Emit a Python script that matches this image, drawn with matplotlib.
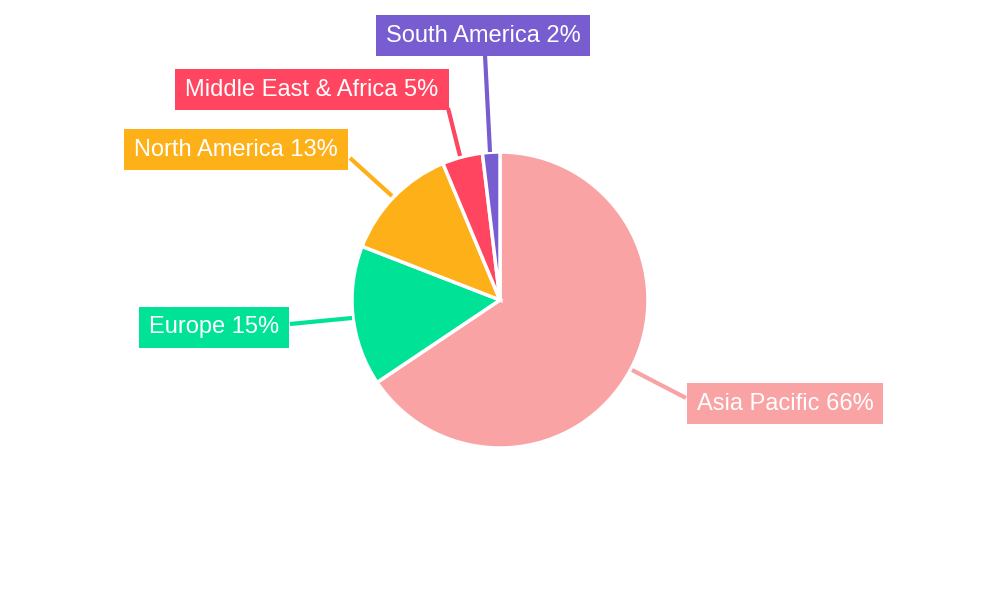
import matplotlib
matplotlib.use("Agg")
import matplotlib.pyplot as plt
import numpy as np

labels = ["Asia Pacific", "Europe", "North America", "Middle East & Africa", "South America"]
values = [65.6, 15.3, 12.8, 4.4, 1.9]
pct_text = ["66%", "15%", "13%", "5%", "2%"]
colors = ["#F9A3A4", "#00E396", "#FEB019", "#FF4560", "#775DD0"]

R = 148.0
fig = plt.figure(figsize=(10, 6), dpi=100)
ax = fig.add_axes([0, 0, 1, 1])

wedges, _ = ax.pie(values, colors=colors, startangle=90, counterclock=False, radius=1,
                   wedgeprops=dict(edgecolor="white", linewidth=2.5))
ax.set_xlim(-500 / R, 500 / R)
ax.set_ylim(-300 / R, 300 / R)
ax.set_aspect("equal")
ax.axis("off")

def px(x, y):
    return ((x - 500) / R, (300 - y) / R)

box = [(785, 402), (214, 326), (236, 148), (312, 88), (483, 34)]
line_start = [(632, 370), (352, 318), (392, 196), (460, 156), (490, 152)]
line_end = [(686, 398), (290, 324), (350, 158), (448, 108), (485, 55)]

for i, lab in enumerate(labels):
    s = px(*line_start[i]); e = px(*line_end[i])
    ax.plot([s[0], e[0]], [s[1], e[1]], color=colors[i], lw=3, solid_capstyle="butt", zorder=1)
    bx, by = px(*box[i])
    ax.text(bx, by - 1.5 / R, f"{lab} {pct_text[i]}", ha="center", va="center", color="white",
            fontsize=17.0, family=["Liberation Sans", "DejaVu Sans"], zorder=3,
            bbox=dict(boxstyle="square,pad=0.42", facecolor=colors[i], edgecolor="none"))

fig.savefig("out.png", dpi=100)
